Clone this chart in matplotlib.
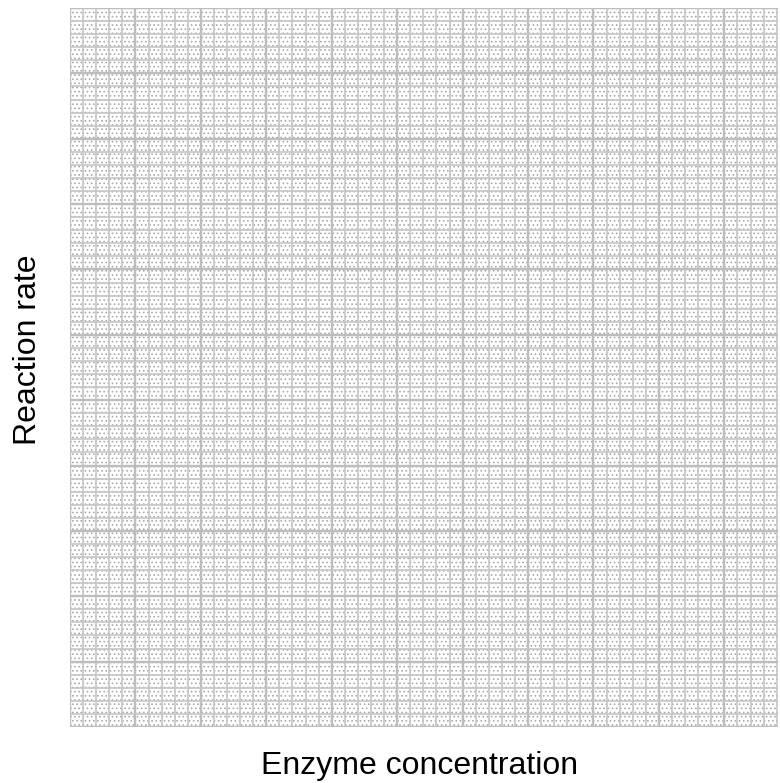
import numpy as np
import matplotlib
matplotlib.use('Agg')
import matplotlib.pyplot as plt
from matplotlib.patches import Rectangle

# graph paper: no data, only the grid and the two axis titles
x_label = 'Enzyme concentration'
y_label = 'Reaction rate'
x_major = np.arange(0, 11, 1)      # heavy lines every 5 small squares
y_major = np.arange(0, 12, 1)
x_minor = np.arange(0, 10.9, 0.2)
y_minor = np.arange(0, 11.01, 0.2)

plt.rcParams['font.family'] = ['Liberation Sans', 'DejaVu Sans']
plt.rcParams['hatch.linewidth'] = 0.7

fig = plt.figure(figsize=(7.8, 7.83), dpi=100)
ax = fig.add_axes([70/780, (783-727)/783, 708/780, 719/783])
ax.set_xlim(0, 10.82)
ax.set_ylim(0, 11)

# stipple texture of the paper
ax.add_patch(Rectangle((0, 0), 1, 1, transform=ax.transAxes, facecolor='none',
                       edgecolor='#aaaaaa', hatch='....', lw=0, zorder=0))

ax.set_xticks(x_major)
ax.set_yticks(y_major)
ax.set_xticks(x_minor, minor=True)
ax.set_yticks(y_minor, minor=True)
ax.grid(which='minor', color='#c6c6c6', lw=1.2, zorder=1)
ax.grid(which='major', color='#bdbdbd', lw=1.7, zorder=1)
ax.tick_params(which='both', length=0, labelbottom=False, labelleft=False)
for s in ax.spines.values():
    s.set_visible(False)
ax.set_axisbelow(True)

fig.text(420/780, 1 - 766/783, x_label, fontsize=23, ha='center', va='center')
fig.text(28/780, 1 - 350/783, y_label, fontsize=23, ha='center', va='center', rotation=90)

plt.savefig('out.png', dpi=100)
